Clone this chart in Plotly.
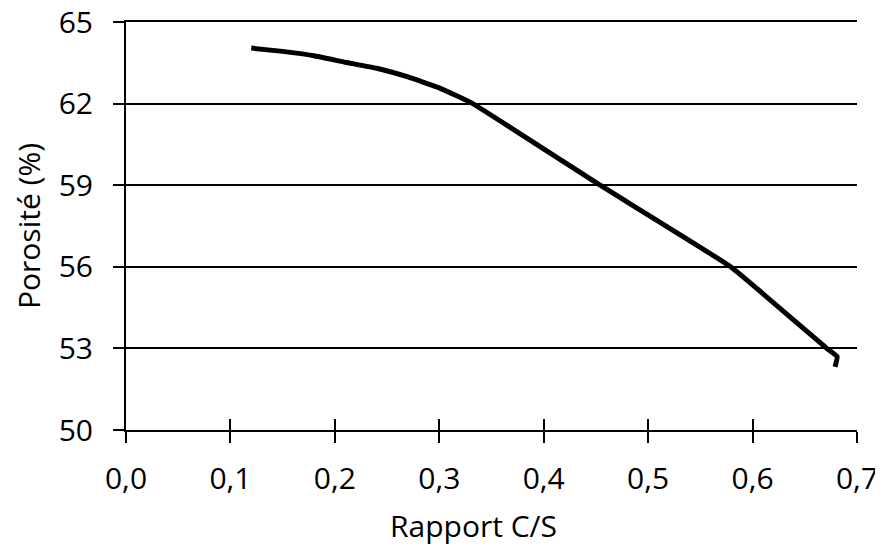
import plotly.graph_objects as go

ratio_cs = [0.12, 0.15, 0.18, 0.21, 0.24, 0.27, 0.30, 0.332, 0.454, 0.579, 0.671, 0.681, 0.679]
porosity = [64.04, 63.92, 63.76, 63.52, 63.30, 62.98, 62.58, 62.00, 59.00, 56.00, 53.00, 52.70, 52.32]

x_ticks = [0.0, 0.1, 0.2, 0.3, 0.4, 0.5, 0.6, 0.7]
y_ticks = [50, 53, 56, 59, 62, 65]
x_title = "Rapport C/S"
y_title = "Porosité (%)"

FONT = "Open Sans"

fig = go.Figure()
fig.add_trace(go.Scatter(x=ratio_cs, y=porosity, mode="lines",
                         line=dict(color="black", width=5, shape="spline", smoothing=0.3),
                         hoverinfo="skip", showlegend=False))
fig.add_trace(go.Scatter(x=ratio_cs, y=porosity, mode="lines", xaxis="x2",
                         line=dict(color="rgba(0,0,0,0)", width=0),
                         hoverinfo="skip", showlegend=False))

fig.update_layout(
    width=875, height=538,
    margin=dict(l=118, r=26, t=14, b=116, autoexpand=False),
    paper_bgcolor="white", plot_bgcolor="white",
    separators=", ",
    font=dict(family=FONT, color="black", size=30),
    xaxis=dict(range=[0, 0.7], tickvals=x_ticks, tickformat=".1f",
               showgrid=False, zeroline=False,
               showline=True, linecolor="black", linewidth=2, mirror=True,
               ticks="outside", ticklen=11, tickwidth=2, tickcolor="black",
               ticklabeloverflow="allow", ticklabelstandoff=10,
               tickfont=dict(size=30, family=FONT)),
    xaxis2=dict(range=[0, 0.7], tickvals=x_ticks, overlaying="x", anchor="y", side="bottom",
                showgrid=False, zeroline=False, showline=False, showticklabels=False,
                ticks="inside", ticklen=11, tickwidth=2, tickcolor="black"),
    yaxis=dict(range=[50, 65], tickvals=y_ticks,
               showgrid=True, gridcolor="black", gridwidth=2, zeroline=False,
               showline=True, linecolor="black", linewidth=2,
               ticks="outside", ticklen=11, tickwidth=2, tickcolor="black",
               ticklabeloverflow="allow", ticklabelstandoff=14,
               tickfont=dict(size=30, family=FONT),
               title=dict(text=y_title, font=dict(size=30, family=FONT), standoff=10)),
    annotations=[dict(text=x_title, xref="paper", yref="paper", x=0.476, y=0,
                      xanchor="center", yanchor="top", yshift=-73, showarrow=False,
                      font=dict(size=30, family=FONT, color="black"))],
)

fig.write_html("out.html")
